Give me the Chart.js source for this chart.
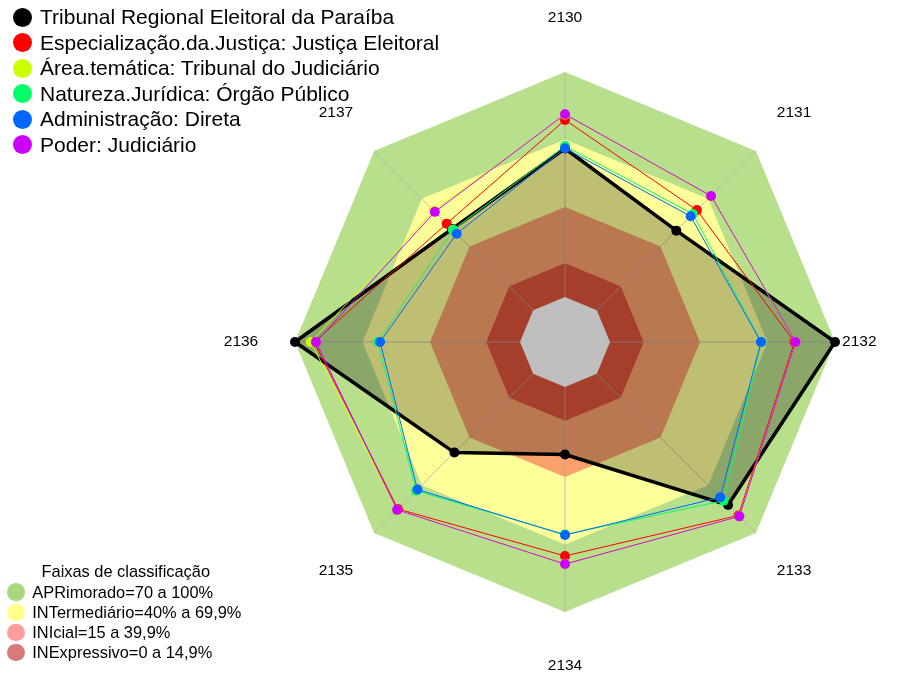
<!DOCTYPE html>
<html lang="pt-BR">
<head>
<meta charset="utf-8">
<title>Radar - Tribunal Regional Eleitoral da Paraíba</title>
<script src="https://cdn.jsdelivr.net/npm/chart.js@4.4.1/dist/chart.umd.min.js"></script>
<style>
    body { margin: 0; background: #fff; font-family: "Liberation Sans", Arial, sans-serif; }
    #wrap { position: relative; width: 907px; height: 675px; }
    .legenda { position: absolute; color: #000; white-space: nowrap; }
    .legenda .item { display: flex; align-items: center; }
    .legenda .bola { display: inline-block; border-radius: 50%; flex: none; }
    #legenda-series { left: 0; top: 4.5px; font-size: 21px; }
    #legenda-series .item { height: 25.5px; }
    #legenda-series .bola { width: 19px; height: 19px; margin-left: 12.5px; margin-right: 8.5px; }
    #legenda-faixas { left: 0; top: 561px; font-size: 16.4px; }
    #legenda-faixas .titulo { height: 21px; line-height: 21px; padding-left: 41.5px; }
    #legenda-faixas .item { height: 20.2px; }
    #legenda-faixas .bola { width: 17.5px; height: 17.5px; margin-left: 7.3px; margin-right: 7.5px; }
</style>
</head>
<body>
<div id="wrap">
    <canvas id="radar"></canvas>
    <div class="legenda" id="legenda-series"></div>
    <div class="legenda" id="legenda-faixas"></div>
</div>
<script>
// Eixos (indicadores)
const categorias = ['2130', '2131', '2132', '2133', '2134', '2135', '2136', '2137'];

// Séries (% por indicador)
const valoresTRE = [66, 50, 100, 82.5, 30, 49.5, 100, 51];
const valoresJusticaEleitoral = [78.7, 62.9, 82, 89, 75.1, 85, 91.5, 54.4];
const valoresTribunalJudiciario = [81, 71.5, 82.5, 89.5, 78.5, 85.5, 93, 62.5];
const valoresOrgaoPublico = [67.1, 60.4, 67.3, 79.7, 65.6, 73.5, 63.2, 50.5];
const valoresDireta = [66.1, 59.0, 67.1, 77.6, 65.8, 72.7, 62.2, 48.1];
const valoresJudiciario = [81.2, 71.8, 82.5, 89.6, 78.7, 85.5, 90.7, 61.8];

const seriesNomes = [
    'Tribunal Regional Eleitoral da Paraíba',
    'Especialização.da.Justiça: Justiça Eleitoral',
    'Área.temática: Tribunal do Judiciário',
    'Natureza.Jurídica: Órgão Público',
    'Administração: Direta',
    'Poder: Judiciário'
];
const seriesValores = [valoresTRE, valoresJusticaEleitoral, valoresTribunalJudiciario, valoresOrgaoPublico, valoresDireta, valoresJudiciario];
const seriesCores = ['#000000', '#FF0000', '#CCFF00', '#00FF66', '#0066FF', '#CC00FF'];

// Faixas de classificação
const faixasNomes = ['APRimorado=70 a 100%', 'INTermediário=40% a 69,9%', 'INIcial=15 a 39,9%', 'INExpressivo=0 a 14,9%'];
const faixasLimites = [100, 70, 40, 15];
const faixasCores = ['#b8df8c', '#ffff9a', '#f9a06c', '#dd553b'];
const faixasCoresLegenda = ['#aad77e', '#ffff8c', '#ff9c9c', '#d67a7a'];

const escalaMin = -20;
const escalaMax = 100;

// ---- datasets ----
const datasets = [];

// bandas coloridas (desenhadas primeiro)
faixasLimites.forEach((lim, i) => {
    datasets.push({
        label: faixasNomes[i],
        data: categorias.map(() => lim),
        backgroundColor: faixasCores[i],
        borderWidth: 0,
        pointRadius: 0,
        fill: 'start',
        order: 20 - i
    });
});
// miolo branco (abaixo de 0)
datasets.push({
    label: 'centro',
    data: categorias.map(() => 0),
    backgroundColor: '#ffffff',
    borderWidth: 0,
    pointRadius: 0,
    fill: 'start',
    order: 15
});
const idxCentro = datasets.length - 1;

seriesNomes.forEach((nome, i) => {
    const principal = i === 0;
    datasets.push({
        label: nome,
        data: seriesValores[i],
        borderColor: seriesCores[i],
        backgroundColor: principal ? 'rgba(0,0,0,0.25)' : 'transparent',
        fill: principal ? 'start' : false,
        borderWidth: principal ? 3.5 : 1,
        borderJoinStyle: 'round',
        pointRadius: 5,
        pointBorderWidth: 0,
        pointBackgroundColor: seriesCores[i],
        pointBorderColor: seriesCores[i],
        order: 6 - i
    });
});

// linhas dos eixos por cima das faixas
const linhasEixos = {
    id: 'linhasEixos',
    afterDatasetDraw(chart, args) {
        if (args.index !== idxCentro) return;
        const r = chart.scales.r;
        const ctx = chart.ctx;
        ctx.save();
        ctx.strokeStyle = 'rgba(175,175,175,0.75)';
        ctx.lineWidth = 1;
        categorias.forEach((c, i) => {
            const p0 = r.getPointPositionForValue(i, 0);
            const p1 = r.getPointPositionForValue(i, escalaMax);
            ctx.beginPath();
            ctx.moveTo(p0.x, p0.y);
            ctx.lineTo(p1.x, p1.y);
            ctx.stroke();
        });
        ctx.restore();
    }
};

// rótulos dos eixos, centralizados a 1.2 do raio (o da direita mais perto)
const rotulosEixos = {
    id: 'rotulosEixos',
    afterDraw(chart) {
        const r = chart.scales.r;
        const ctx = chart.ctx;
        ctx.save();
        ctx.fillStyle = '#000';
        ctx.font = '15.5px "Liberation Sans", Arial, sans-serif';
        ctx.textAlign = 'center';
        ctx.textBaseline = 'middle';
        categorias.forEach((c, i) => {
            const fator = i === 2 ? 1.09 : 1.2;
            const p = r.getPointPosition(i, r.drawingArea * fator);
            ctx.fillText(c, p.x, p.y);
        });
        ctx.restore();
    }
};

new Chart(document.getElementById('radar'), {
    type: 'radar',
    data: { labels: categorias, datasets: datasets },
    options: {
        responsive: true,
        maintainAspectRatio: false,
        animation: false,
        events: [],
        layout: { padding: { left: 295, right: 72, top: 72, bottom: 63 } },
        plugins: { legend: { display: false }, tooltip: { enabled: false } },
        scales: {
            r: {
                min: escalaMin,
                max: escalaMax,
                ticks: { display: false, stepSize: 20 },
                grid: { display: false },
                angleLines: { display: false },
                pointLabels: { display: false }
            }
        }
    },
    plugins: [linhasEixos, rotulosEixos]
});

// ---- legendas ----
const legSeries = document.getElementById('legenda-series');
seriesNomes.forEach((nome, i) => {
    legSeries.innerHTML += `<div class="item"><span class="bola" style="background:${seriesCores[i]}"></span><span>${nome}</span></div>`;
});

const legFaixas = document.getElementById('legenda-faixas');
legFaixas.innerHTML = '<div class="titulo">Faixas de classificação</div>';
faixasNomes.forEach((nome, i) => {
    legFaixas.innerHTML += `<div class="item"><span class="bola" style="background:${faixasCoresLegenda[i]}"></span><span>${nome}</span></div>`;
});
</script>
</body>
</html>
